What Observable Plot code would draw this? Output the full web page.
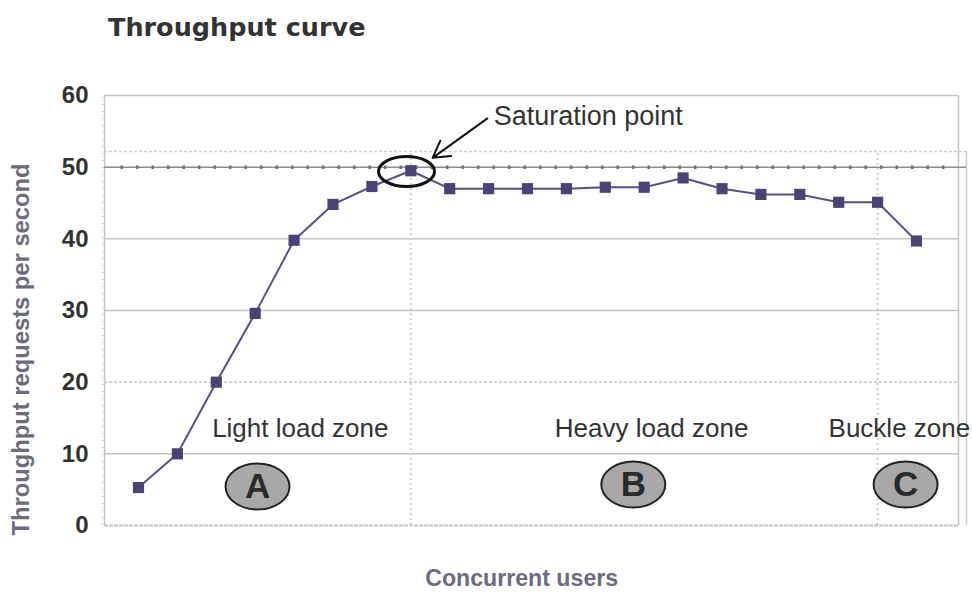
<!DOCTYPE html>
<html>
<head>
<meta charset="utf-8">
<script src="https://cdn.jsdelivr.net/npm/d3@7"></script>
<script src="https://cdn.jsdelivr.net/npm/@observablehq/plot@0.6"></script>
<style>
  html, body { margin: 0; padding: 0; background: #fff; }
  #title { margin: 0; padding: 12px 0 8px 108px; height: 30px; line-height: 30px;
    font-family: "DejaVu Sans", sans-serif; font-weight: bold; font-size: 25.5px; color: #333; }
  #chart svg { display: block; }
</style>
</head>
<body>
<div id="title">Throughput curve</div>
<div id="chart"></div>
<script>
// ---- data ----
const users = d3.range(1, 22);
const throughput = [5.3, 10.0, 20.0, 29.6, 39.8, 44.8, 47.3, 49.5, 47.0, 47.0, 47.0,
                    47.0, 47.2, 47.2, 48.5, 47.0, 46.2, 46.2, 45.1, 45.1, 39.7];
const yTicks = [0, 10, 20, 30, 40, 50, 60];
const zoneNames = ["Light load zone", "Heavy load zone", "Buckle zone"];
const zoneNameX = [5.16, 14.19, 20.56];
const zoneLetters = ["A", "B", "C"];
const zoneLetterX = [4.06, 13.72, 20.72];
const zoneLetterY = [5.44, 5.72, 5.72];
const zoneBounds = [8, 20];          // saturation point / buckle start
const saturationLabel = "Saturation point";

const points = users.map((u, i) => ({users: u, value: throughput[i]}));
const zones = zoneNames.map((n, i) => ({name: n, x: zoneNameX[i]}));
const letters = zoneLetters.map((l, i) => ({letter: l, x: zoneLetterX[i], y: zoneLetterY[i]}));

// ellipse symbol for Plot.dot
function ellipse(rx, ry) {
  const k = 0.5523;
  return {draw(c) {
    c.moveTo(rx, 0);
    c.bezierCurveTo(rx, k * ry, k * rx, ry, 0, ry);
    c.bezierCurveTo(-k * rx, ry, -rx, k * ry, -rx, 0);
    c.bezierCurveTo(-rx, -k * ry, -k * rx, -ry, 0, -ry);
    c.bezierCurveTo(k * rx, -ry, rx, -k * ry, rx, 0);
    c.closePath();
  }};
}

const xL = 0.126, xR = 22.08, xFar = 22.285;
const gridCol = "#c4c4c4";
const labCol = "#6d6b80";

const chart = Plot.plot({
  width: 972, height: 544,
  marginTop: 45, marginBottom: 69, marginLeft: 104, marginRight: 4,
  style: {fontFamily: "'Liberation Sans', Arial, sans-serif", color: "#333", background: "#fff"},
  x: {domain: [xL, 22.337], axis: null},
  y: {domain: [0, 60], axis: null},
  marks: [
    // gridlines and frame
    Plot.ruleY([10, 30, 40, 60], {x1: xL, x2: xR, stroke: gridCol, strokeWidth: 1.5}),
    Plot.ruleY([20], {x1: xL, x2: xR, stroke: gridCol, strokeWidth: 1.5, strokeDasharray: "3,2"}),
    Plot.ruleY([0], {x1: xL, x2: xR, stroke: gridCol, strokeWidth: 2, strokeDasharray: "4,1"}),
    Plot.ruleY([52.2], {x1: xL, x2: xFar, stroke: "#d0d0d0", strokeWidth: 1.5, strokeDasharray: "3,2"}),
    Plot.ruleX([xL], {y1: 0, y2: 60, stroke: gridCol, strokeWidth: 1.5}),
    Plot.ruleX([xL], {y1: 0, y2: 60, dx: -2, stroke: "#d0d0d0", strokeWidth: 2, strokeDasharray: "1,6"}),
    Plot.ruleX([xR], {y1: 0, y2: 60, stroke: gridCol, strokeWidth: 1.5}),
    Plot.ruleX([xFar], {y1: 0, y2: 52.2, stroke: "#d0d0d0", strokeWidth: 1.5}),
    Plot.ruleX(zoneBounds, {y1: 0, y2: 52.2, stroke: "#cfcfcf", strokeWidth: 2, strokeDasharray: "2,3"}),
    // 50 reference line with small marks
    Plot.ruleY([50], {x1: xL, x2: xFar, stroke: "#8c8c8c", strokeWidth: 1.5}),
    Plot.ruleY([50], {x1: 0.55, x2: 21.9, stroke: "#6e6a88", strokeWidth: 3.5, strokeDasharray: "2.5,13"}),
    // series
    Plot.line(points, {x: "users", y: "value", stroke: "#5a4f8a", strokeWidth: 2}),
    Plot.dot(points, {x: "users", y: "value", symbol: "square", r: 6.3, fill: "#4c4278", stroke: "none"}),
    // y axis tick labels
    Plot.axisY(yTicks, {tickSize: 0, tickPadding: 16, fontSize: 24, fontWeight: "bold", label: null}),
    // zone annotations
    Plot.text(zones, {x: "x", y: 13.5, text: "name", fontSize: 26, fill: "#333", textAnchor: "middle"}),
    Plot.dot(letters, {x: "x", y: "y", symbol: ellipse(32, 23), fill: "#a8a8a8", stroke: "#222", strokeWidth: 2}),
    Plot.text(letters, {x: "x", y: "y", text: "letter", fontSize: 35, fontWeight: "bold", fill: "#2a2a2a"}),
    // saturation point annotation
    Plot.dot([{x: 7.89, y: 49.4}], {x: "x", y: "y", symbol: ellipse(28, 15), fill: "none", stroke: "#111", strokeWidth: 3}),
    Plot.arrow([{x1: 9.97, y1: 56.8, x2: 8.56, y2: 51.3}], {x1: "x1", y1: "y1", x2: "x2", y2: "y2", stroke: "#111", strokeWidth: 2, headLength: 14}),
    Plot.text([saturationLabel], {x: 10.13, y: 57.1, text: d => d, fontSize: 27, fill: "#333", textAnchor: "start"}),
    // axis titles
    Plot.text(["Throughput requests per second"], {frameAnchor: "left", y: 24.56, dx: -83, rotate: -90, text: d => d, fontSize: 23, fontWeight: "bold", fill: labCol, textAnchor: "middle"}),
    Plot.text(["Concurrent users"], {frameAnchor: "bottom", x: 10.85, dy: 60, text: d => d, fontSize: 23, fontWeight: "bold", fill: labCol, textAnchor: "middle"})
  ]
});

// condense the bold axis titles like the original typeface
d3.select(chart).selectAll("text").each(function() {
  const t = this.textContent;
  if (t === "Throughput requests per second") d3.select(this).attr("textLength", 372).attr("lengthAdjust", "spacingAndGlyphs");
  if (t === "Concurrent users") d3.select(this).attr("textLength", 193).attr("lengthAdjust", "spacingAndGlyphs");
});

document.getElementById("chart").appendChild(chart);
</script>
</body>
</html>
